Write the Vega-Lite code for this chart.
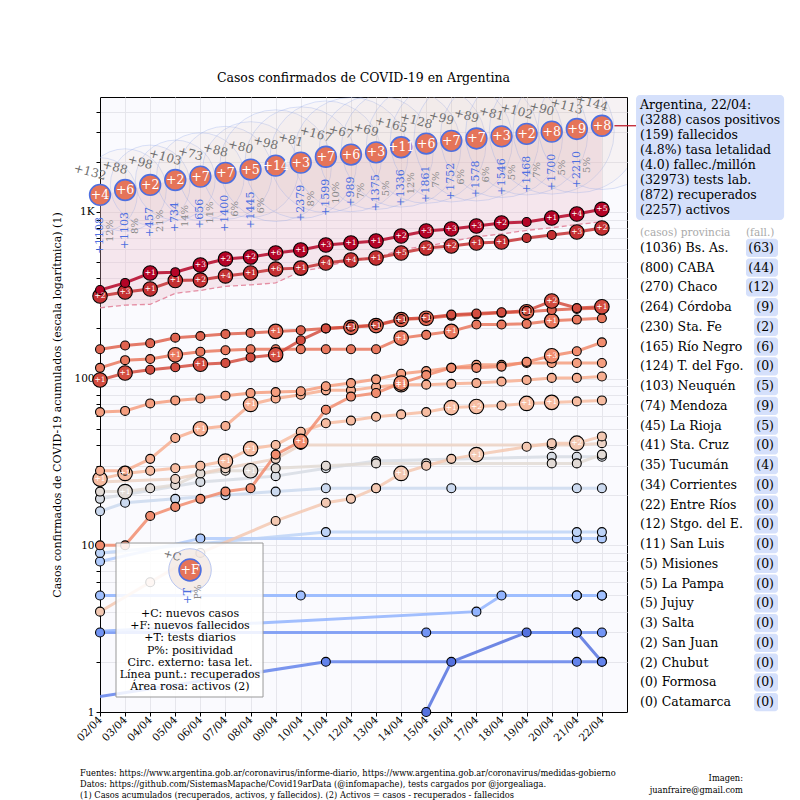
{
"$schema": "https://vega.github.io/schema/vega-lite/v6.json",
"width": 527, "height": 615,
"autosize": "none",
"padding": {"left": 100, "top": 97, "right": 173, "bottom": 88},
"background": "white",
"title": {"text": "Casos confirmados de COVID-19 en Argentina", "fontSize": 12.5, "fontWeight": "normal", "anchor": "middle", "offset": 8, "color": "#000"},
"config": {"font": "DejaVu Serif", "view": {"fill": "#fafafe", "stroke": "#000", "strokeWidth": 1}, "axisX": {"labelOverlap": false, "labelSeparation": -12}},
"datasets": {
"nat": [
{"d":2,"c":1265,"nc":132,"f":4,"t":1108,"pp":0.12,"r":266,"let":2.8},
{"d":3,"c":1353,"nc":88,"f":6,"t":1103,"pp":0.08,"r":276,"let":3.1},
{"d":4,"c":1451,"nc":98,"f":2,"t":457,"pp":0.21,"r":279,"let":3.0},
{"d":5,"c":1554,"nc":103,"f":2,"t":734,"pp":0.14,"r":325,"let":3.0},
{"d":6,"c":1628,"nc":73,"f":7,"t":656,"pp":0.11,"r":338,"let":3.3},
{"d":7,"c":1715,"nc":88,"f":7,"t":1400,"pp":0.06,"r":358,"let":3.5},
{"d":8,"c":1795,"nc":80,"f":5,"t":1445,"pp":0.06,"r":365,"let":3.6},
{"d":9,"c":1894,"nc":98,"f":14,"t":null,"pp":null,"r":375,"let":4.2},
{"d":10,"c":1975,"nc":81,"f":3,"t":2379,"pp":0.08,"r":440,"let":4.2},
{"d":11,"c":2142,"nc":167,"f":7,"t":1599,"pp":0.10,"r":468,"let":4.2},
{"d":12,"c":2208,"nc":67,"f":6,"t":989,"pp":0.07,"r":515,"let":4.3},
{"d":13,"c":2277,"nc":69,"f":3,"t":1375,"pp":0.05,"r":528,"let":4.3},
{"d":14,"c":2443,"nc":165,"f":11,"t":1336,"pp":0.12,"r":596,"let":4.5},
{"d":15,"c":2571,"nc":128,"f":6,"t":1861,"pp":0.07,"r":622,"let":4.5},
{"d":16,"c":2669,"nc":99,"f":7,"t":1752,"pp":0.06,"r":666,"let":4.6},
{"d":17,"c":2758,"nc":89,"f":7,"t":1578,"pp":0.06,"r":709,"let":4.7},
{"d":18,"c":2839,"nc":81,"f":3,"t":1546,"pp":0.05,"r":737,"let":4.6},
{"d":19,"c":2941,"nc":102,"f":2,"t":1468,"pp":0.07,"r":775,"let":4.6},
{"d":20,"c":3031,"nc":90,"f":8,"t":1700,"pp":0.05,"r":803,"let":4.7},
{"d":21,"c":3144,"nc":113,"f":9,"t":2210,"pp":0.05,"r":840,"let":4.8},
{"d":22,"c":3288,"nc":144,"f":8,"t":null,"pp":null,"r":872,"let":4.8}
],
"prov": [
{"p":"Chubut","d":15,"c":1},{"p":"Chubut","d":16,"c":2},{"p":"Chubut","d":19,"c":3},{"p":"Chubut","d":21,"c":3},{"p":"Chubut","d":22,"c":2},
{"p":"San Juan","d":-2,"c":1},{"p":"San Juan","d":11,"c":2},{"p":"San Juan","d":21,"c":2},{"p":"San Juan","d":22,"c":2},
{"p":"Salta","d":2,"c":3},{"p":"Salta","d":15,"c":3},{"p":"Salta","d":21,"c":3},{"p":"Salta","d":22,"c":3},
{"p":"Jujuy","d":1,"c":5},{"p":"Jujuy","d":21,"c":5},{"p":"Jujuy","d":22,"c":5},
{"p":"La Pampa","d":1,"c":3},{"p":"La Pampa","d":17,"c":4},{"p":"La Pampa","d":18,"c":5},{"p":"La Pampa","d":21,"c":5},{"p":"La Pampa","d":22,"c":5},
{"p":"Misiones","d":2,"c":5},{"p":"Misiones","d":10,"c":5},{"p":"Misiones","d":21,"c":5},{"p":"Misiones","d":22,"c":5},
{"p":"San Luis","d":2,"c":8},{"p":"San Luis","d":6,"c":11},{"p":"San Luis","d":21,"c":11},{"p":"San Luis","d":22,"c":11},
{"p":"Stgo. del E.","d":2,"c":9},{"p":"Stgo. del E.","d":11,"c":12},{"p":"Stgo. del E.","d":21,"c":12},{"p":"Stgo. del E.","d":22,"c":12},
{"p":"Entre Ríos","d":2,"c":16},{"p":"Entre Ríos","d":3,"c":18},{"p":"Entre Ríos","d":5,"c":19},{"p":"Entre Ríos","d":7,"c":20},{"p":"Entre Ríos","d":9,"c":21},{"p":"Entre Ríos","d":11,"c":22},{"p":"Entre Ríos","d":13,"c":22},{"p":"Entre Ríos","d":16,"c":22},{"p":"Entre Ríos","d":21,"c":22},{"p":"Entre Ríos","d":22,"c":22},
{"p":"Corrientes","d":2,"c":19},{"p":"Corrientes","d":6,"c":24},{"p":"Corrientes","d":9,"c":26},{"p":"Corrientes","d":11,"c":29},{"p":"Corrientes","d":13,"c":32},{"p":"Corrientes","d":20,"c":34},{"p":"Corrientes","d":21,"c":34},{"p":"Corrientes","d":22,"c":34},
{"p":"Tucumán","d":2,"c":21},{"p":"Tucumán","d":3,"c":21,"f":1},{"p":"Tucumán","d":4,"c":22},{"p":"Tucumán","d":5,"c":23},{"p":"Tucumán","d":6,"c":27},{"p":"Tucumán","d":7,"c":28},{"p":"Tucumán","d":8,"c":28,"f":1},{"p":"Tucumán","d":9,"c":29},{"p":"Tucumán","d":11,"c":30},{"p":"Tucumán","d":13,"c":31},{"p":"Tucumán","d":15,"c":31},{"p":"Tucumán","d":20,"c":31},{"p":"Tucumán","d":21,"c":31},{"p":"Tucumán","d":22,"c":35},
{"p":"Sta. Cruz","d":2,"c":24},{"p":"Sta. Cruz","d":5,"c":25},{"p":"Sta. Cruz","d":7,"c":29},{"p":"Sta. Cruz","d":9,"c":33},{"p":"Sta. Cruz","d":10,"c":40},{"p":"Sta. Cruz","d":20,"c":40},{"p":"Sta. Cruz","d":21,"c":40},{"p":"Sta. Cruz","d":22,"c":41},
{"p":"La Rioja","d":2,"c":4},{"p":"La Rioja","d":4,"c":6},{"p":"La Rioja","d":6,"c":9},{"p":"La Rioja","d":9,"c":14},{"p":"La Rioja","d":11,"c":18},{"p":"La Rioja","d":12,"c":19},{"p":"La Rioja","d":13,"c":22},{"p":"La Rioja","d":14,"c":27,"f":1},{"p":"La Rioja","d":15,"c":30},{"p":"La Rioja","d":16,"c":33},{"p":"La Rioja","d":17,"c":35,"f":1},{"p":"La Rioja","d":19,"c":39},{"p":"La Rioja","d":20,"c":41},{"p":"La Rioja","d":21,"c":41,"f":2},{"p":"La Rioja","d":22,"c":45},
{"p":"Mendoza","d":2,"c":25,"f":1},{"p":"Mendoza","d":3,"c":27,"f":1},{"p":"Mendoza","d":4,"c":28},{"p":"Mendoza","d":5,"c":29},{"p":"Mendoza","d":6,"c":30},{"p":"Mendoza","d":7,"c":32,"f":1},{"p":"Mendoza","d":8,"c":38,"f":1},{"p":"Mendoza","d":9,"c":40},{"p":"Mendoza","d":10,"c":48},{"p":"Mendoza","d":11,"c":54},{"p":"Mendoza","d":12,"c":56},{"p":"Mendoza","d":13,"c":59},{"p":"Mendoza","d":14,"c":61},{"p":"Mendoza","d":15,"c":63},{"p":"Mendoza","d":16,"c":67,"f":1},{"p":"Mendoza","d":17,"c":68,"f":2},{"p":"Mendoza","d":18,"c":69},{"p":"Mendoza","d":19,"c":71,"f":1},{"p":"Mendoza","d":20,"c":72,"f":1},{"p":"Mendoza","d":21,"c":73},{"p":"Mendoza","d":22,"c":74},
{"p":"Neuquén","d":2,"c":28},{"p":"Neuquén","d":3,"c":28},{"p":"Neuquén","d":4,"c":33},{"p":"Neuquén","d":5,"c":44},{"p":"Neuquén","d":6,"c":50,"f":1},{"p":"Neuquén","d":7,"c":52},{"p":"Neuquén","d":8,"c":70,"f":1},{"p":"Neuquén","d":9,"c":76},{"p":"Neuquén","d":10,"c":80},{"p":"Neuquén","d":11,"c":85},{"p":"Neuquén","d":12,"c":85},{"p":"Neuquén","d":13,"c":89},{"p":"Neuquén","d":14,"c":92,"f":1},{"p":"Neuquén","d":15,"c":92},{"p":"Neuquén","d":16,"c":93},{"p":"Neuquén","d":17,"c":94},{"p":"Neuquén","d":18,"c":96},{"p":"Neuquén","d":19,"c":98},{"p":"Neuquén","d":20,"c":101},{"p":"Neuquén","d":21,"c":101},{"p":"Neuquén","d":22,"c":103},
{"p":"T. del Fgo.","d":2,"c":63},{"p":"T. del Fgo.","d":3,"c":64},{"p":"T. del Fgo.","d":4,"c":71},{"p":"T. del Fgo.","d":5,"c":74},{"p":"T. del Fgo.","d":6,"c":76},{"p":"T. del Fgo.","d":7,"c":79},{"p":"T. del Fgo.","d":8,"c":82},{"p":"T. del Fgo.","d":9,"c":83},{"p":"T. del Fgo.","d":10,"c":84},{"p":"T. del Fgo.","d":11,"c":90},{"p":"T. del Fgo.","d":12,"c":94},{"p":"T. del Fgo.","d":13,"c":99},{"p":"T. del Fgo.","d":14,"c":107},{"p":"T. del Fgo.","d":15,"c":111},{"p":"T. del Fgo.","d":16,"c":116},{"p":"T. del Fgo.","d":17,"c":121},{"p":"T. del Fgo.","d":18,"c":121},{"p":"T. del Fgo.","d":19,"c":124},{"p":"T. del Fgo.","d":20,"c":124},{"p":"T. del Fgo.","d":21,"c":124},{"p":"T. del Fgo.","d":22,"c":124},
{"p":"Río Negro","d":2,"c":10},{"p":"Río Negro","d":3,"c":10},{"p":"Río Negro","d":4,"c":15},{"p":"Río Negro","d":5,"c":17},{"p":"Río Negro","d":6,"c":19},{"p":"Río Negro","d":7,"c":21},{"p":"Río Negro","d":8,"c":22},{"p":"Río Negro","d":9,"c":35},{"p":"Río Negro","d":10,"c":42,"f":1},{"p":"Río Negro","d":11,"c":65},{"p":"Río Negro","d":12,"c":78},{"p":"Río Negro","d":13,"c":82},{"p":"Río Negro","d":14,"c":94,"f":1},{"p":"Río Negro","d":15,"c":105},{"p":"Río Negro","d":16,"c":116},{"p":"Río Negro","d":17,"c":116},{"p":"Río Negro","d":18,"c":118},{"p":"Río Negro","d":19,"c":126},{"p":"Río Negro","d":20,"c":137,"f":3},{"p":"Río Negro","d":21,"c":146},{"p":"Río Negro","d":22,"c":165},
{"p":"Sta. Fe","d":2,"c":116},{"p":"Sta. Fe","d":3,"c":129},{"p":"Sta. Fe","d":4,"c":131},{"p":"Sta. Fe","d":5,"c":139,"f":1},{"p":"Sta. Fe","d":6,"c":145},{"p":"Sta. Fe","d":7,"c":148},{"p":"Sta. Fe","d":8,"c":150},{"p":"Sta. Fe","d":9,"c":150},{"p":"Sta. Fe","d":10,"c":150},{"p":"Sta. Fe","d":11,"c":150},{"p":"Sta. Fe","d":12,"c":150},{"p":"Sta. Fe","d":13,"c":150},{"p":"Sta. Fe","d":14,"c":175,"f":1},{"p":"Sta. Fe","d":15,"c":183},{"p":"Sta. Fe","d":16,"c":192,"f":1},{"p":"Sta. Fe","d":17,"c":211},{"p":"Sta. Fe","d":18,"c":211},{"p":"Sta. Fe","d":19,"c":213},{"p":"Sta. Fe","d":20,"c":222,"f":1},{"p":"Sta. Fe","d":21,"c":226},{"p":"Sta. Fe","d":22,"c":230},
{"p":"Córdoba","d":2,"c":150},{"p":"Córdoba","d":3,"c":158},{"p":"Córdoba","d":4,"c":163},{"p":"Córdoba","d":5,"c":176},{"p":"Córdoba","d":6,"c":180},{"p":"Córdoba","d":7,"c":185},{"p":"Córdoba","d":8,"c":188},{"p":"Córdoba","d":9,"c":192,"f":1},{"p":"Córdoba","d":10,"c":195},{"p":"Córdoba","d":11,"c":200},{"p":"Córdoba","d":12,"c":203,"f":1},{"p":"Córdoba","d":13,"c":208,"f":1},{"p":"Córdoba","d":14,"c":226,"f":1},{"p":"Córdoba","d":15,"c":230,"f":1},{"p":"Córdoba","d":16,"c":238},{"p":"Córdoba","d":17,"c":243},{"p":"Córdoba","d":18,"c":248},{"p":"Córdoba","d":19,"c":252,"f":1},{"p":"Córdoba","d":20,"c":258},{"p":"Córdoba","d":21,"c":262},{"p":"Córdoba","d":22,"c":264},
{"p":"Chaco","d":2,"c":98,"f":1},{"p":"Chaco","d":3,"c":108,"f":1},{"p":"Chaco","d":4,"c":113},{"p":"Chaco","d":5,"c":117},{"p":"Chaco","d":6,"c":122,"f":1},{"p":"Chaco","d":7,"c":124},{"p":"Chaco","d":8,"c":134},{"p":"Chaco","d":9,"c":139,"f":1},{"p":"Chaco","d":10,"c":170},{"p":"Chaco","d":11,"c":200},{"p":"Chaco","d":12,"c":205},{"p":"Chaco","d":13,"c":210},{"p":"Chaco","d":14,"c":228},{"p":"Chaco","d":15,"c":232},{"p":"Chaco","d":16,"c":242},{"p":"Chaco","d":17,"c":246},{"p":"Chaco","d":18,"c":250},{"p":"Chaco","d":19,"c":255},{"p":"Chaco","d":20,"c":292,"f":2},{"p":"Chaco","d":21,"c":265},{"p":"Chaco","d":22,"c":270,"f":1},
{"p":"CABA","d":2,"c":313,"f":2},{"p":"CABA","d":3,"c":331,"f":3},{"p":"CABA","d":4,"c":345,"f":1},{"p":"CABA","d":5,"c":388,"f":1},{"p":"CABA","d":6,"c":390,"f":2},{"p":"CABA","d":7,"c":413,"f":4},{"p":"CABA","d":8,"c":430,"f":1},{"p":"CABA","d":9,"c":454,"f":6},{"p":"CABA","d":10,"c":460,"f":1},{"p":"CABA","d":11,"c":494,"f":4},{"p":"CABA","d":12,"c":515,"f":4},{"p":"CABA","d":13,"c":529,"f":1},{"p":"CABA","d":14,"c":567,"f":5},{"p":"CABA","d":15,"c":607,"f":2},{"p":"CABA","d":16,"c":624,"f":2},{"p":"CABA","d":17,"c":651,"f":1},{"p":"CABA","d":18,"c":660,"f":1},{"p":"CABA","d":19,"c":697},{"p":"CABA","d":20,"c":727},{"p":"CABA","d":21,"c":758,"f":3},{"p":"CABA","d":22,"c":800,"f":2},
{"p":"Bs. As.","d":2,"c":340},{"p":"Bs. As.","d":3,"c":375},{"p":"Bs. As.","d":4,"c":430,"f":1},{"p":"Bs. As.","d":5,"c":435},{"p":"Bs. As.","d":6,"c":480,"f":3},{"p":"Bs. As.","d":7,"c":522,"f":2},{"p":"Bs. As.","d":8,"c":536,"f":2},{"p":"Bs. As.","d":9,"c":567,"f":6},{"p":"Bs. As.","d":10,"c":591,"f":1},{"p":"Bs. As.","d":11,"c":633,"f":3},{"p":"Bs. As.","d":12,"c":651,"f":1},{"p":"Bs. As.","d":13,"c":669,"f":1},{"p":"Bs. As.","d":14,"c":717,"f":2},{"p":"Bs. As.","d":15,"c":768,"f":3},{"p":"Bs. As.","d":16,"c":790,"f":3},{"p":"Bs. As.","d":17,"c":823,"f":3},{"p":"Bs. As.","d":18,"c":858,"f":2},{"p":"Bs. As.","d":19,"c":870},{"p":"Bs. As.","d":20,"c":919,"f":1},{"p":"Bs. As.","d":21,"c":972,"f":4},{"p":"Bs. As.","d":22,"c":1036,"f":5}
],
"lab": [
{"rk":0,"lb":"(1036) Bs. As.","dl":"(63)","dd":63},
{"rk":1,"lb":"(800) CABA","dl":"(44)","dd":44},
{"rk":2,"lb":"(270) Chaco","dl":"(12)","dd":12},
{"rk":3,"lb":"(264) Córdoba","dl":"(9)","dd":9},
{"rk":4,"lb":"(230) Sta. Fe","dl":"(2)","dd":2},
{"rk":5,"lb":"(165) Río Negro","dl":"(6)","dd":6},
{"rk":6,"lb":"(124) T. del Fgo.","dl":"(0)","dd":0},
{"rk":7,"lb":"(103) Neuquén","dl":"(5)","dd":5},
{"rk":8,"lb":"(74) Mendoza","dl":"(9)","dd":9},
{"rk":9,"lb":"(45) La Rioja","dl":"(5)","dd":5},
{"rk":10,"lb":"(41) Sta. Cruz","dl":"(0)","dd":0},
{"rk":11,"lb":"(35) Tucumán","dl":"(4)","dd":4},
{"rk":12,"lb":"(34) Corrientes","dl":"(0)","dd":0},
{"rk":13,"lb":"(22) Entre Ríos","dl":"(0)","dd":0},
{"rk":14,"lb":"(12) Stgo. del E.","dl":"(0)","dd":0},
{"rk":15,"lb":"(11) San Luis","dl":"(0)","dd":0},
{"rk":16,"lb":"(5) Misiones","dl":"(0)","dd":0},
{"rk":17,"lb":"(5) La Pampa","dl":"(0)","dd":0},
{"rk":18,"lb":"(5) Jujuy","dl":"(0)","dd":0},
{"rk":19,"lb":"(3) Salta","dl":"(0)","dd":0},
{"rk":20,"lb":"(2) San Juan","dl":"(0)","dd":0},
{"rk":21,"lb":"(2) Chubut","dl":"(0)","dd":0},
{"rk":22,"lb":"(0) Formosa","dl":"(0)","dd":0},
{"rk":23,"lb":"(0) Catamarca","dl":"(0)","dd":0}
]
},
"layer": [
{
"layer": [
{"data": {"name": "nat"},
 "mark": {"type": "area", "color": "#eab8c8", "opacity": 0.3, "clip": true},
 "encoding": {
  "x": {"field": "d", "type": "quantitative", "scale": {"domain": [2, 23], "nice": false, "zero": false},
        "axis": {"values": [2,3,4,5,6,7,8,9,10,11,12,13,14,15,16,17,18,19,20,21,22], "tickCount": 21,
                 "labelExpr": "datum.value > 22.5 ? '' : ((datum.value < 10 ? '0' : '') + datum.value + '/04')",
                 "labelOverlap": false, "labelSeparation": -12, "labelAngle": 315, "labelAlign": "right", "labelBaseline": "middle", "labelFontSize": 10.5, "labelColor": "#000",
                 "labelPadding": 2, "tickSize": 4, "tickColor": "#000", "domainColor": "#000", "grid": true, "gridColor": "#e6e6ec", "title": null}},
  "y": {"field": "c", "type": "quantitative", "scale": {"type": "log", "domain": [1, 4890], "nice": false},
        "axis": {"values": [1,2,3,4,5,6,7,8,9,10,20,30,40,50,60,70,80,90,100,200,300,400,500,600,700,800,900,1000,2000,3000,4000],
                 "labelExpr": "datum.value == 1000 ? '1K' : ((datum.value == 1 || datum.value == 10 || datum.value == 100) ? datum.value + '' : '')",
                 "labelOverlap": false, "labelFontSize": 10.5, "labelColor": "#000", "tickSize": 4, "tickColor": "#000", "domainColor": "#000",
                 "grid": true, "gridColor": "#e6e6ec",
                 "title": "Casos confirmados de COVID-19 acumulados (escala logarítmica) (1)", "titleFontSize": 11, "titleFontWeight": "normal", "titleColor": "#000", "titlePadding": 11}},
  "y2": {"field": "r"}
 }},
{"data": {"name": "nat"},
 "mark": {"type": "point", "shape": "circle", "filled": true, "fill": "#d9b6a3", "fillOpacity": 0.06, "stroke": "#8ba4ea", "strokeOpacity": 0.3, "strokeWidth": 1, "clip": true},
 "encoding": {
  "x": {"field": "d", "type": "quantitative"},
  "y": {"field": "c", "type": "quantitative"},
  "size": {"field": "let", "type": "quantitative", "scale": {"type": "pow", "exponent": 2, "domain": [0, 5], "range": [0, 17671]}, "legend": null}
 }},
{"data": {"name": "nat"},
 "mark": {"type": "line", "color": "#e48da3", "strokeDash": [5, 3], "strokeWidth": 1.3},
 "encoding": {"x": {"field": "d", "type": "quantitative"}, "y": {"field": "r", "type": "quantitative"}}},
{"data": {"name": "prov"},
 "mark": {"type": "line", "strokeWidth": 3, "opacity": 0.85, "clip": true},
 "encoding": {
  "x": {"field": "d", "type": "quantitative"},
  "y": {"field": "c", "type": "quantitative"},
  "color": {"field": "p", "type": "nominal", "legend": null,
   "scale": {"domain": ["Bs. As.","CABA","Chaco","Córdoba","Sta. Fe","Río Negro","T. del Fgo.","Neuquén","Mendoza","La Rioja","Sta. Cruz","Tucumán","Corrientes","Entre Ríos","Stgo. del E.","San Luis","Misiones","La Pampa","Jujuy","Salta","San Juan","Chubut"],
             "range": ["#b40426","#c43032","#d34d40","#df634f","#e9785e","#f18c6e","#f59e7f","#f7ae91","#f7bca1","#f3c8b2","#ecd2c4","#e2dad5","#d7dce4","#cbd9ef","#bdd3f7","#afcafc","#a0c0ff","#91b3fe","#81a4fb","#7294f4","#6383eb","#5572df"]}}
 }},
{"data": {"name": "prov"},
 "transform": [{"filter": "datum.d >= 2"}],
 "mark": {"type": "point", "shape": "circle", "filled": true, "stroke": "#000", "strokeWidth": 1.1, "opacity": 1},
 "encoding": {
  "x": {"field": "d", "type": "quantitative"},
  "y": {"field": "c", "type": "quantitative"},
  "color": {"field": "p", "type": "nominal", "legend": null},
  "size": {"condition": {"test": "datum.f > 0", "value": 210}, "value": 80}
 }},
{"data": {"name": "prov"},
 "transform": [{"filter": "datum.f > 0"}],
 "mark": {"type": "text", "color": "white", "fontSize": 7.5, "baseline": "middle", "align": "center"},
 "encoding": {
  "x": {"field": "d", "type": "quantitative"},
  "y": {"field": "c", "type": "quantitative"},
  "text": {"field": "f", "type": "quantitative", "format": "+d"}
 }},
{"data": {"name": "nat"},
 "mark": {"type": "point", "shape": "circle", "filled": true, "fill": "#e57459", "stroke": "#4d6fe0", "strokeWidth": 1.6, "size": 430, "opacity": 1},
 "encoding": {"x": {"field": "d", "type": "quantitative"}, "y": {"field": "c", "type": "quantitative"}}},
{"data": {"name": "nat"},
 "mark": {"type": "text", "color": "white", "fontSize": 12.5, "baseline": "middle", "align": "center"},
 "encoding": {"x": {"field": "d", "type": "quantitative"}, "y": {"field": "c", "type": "quantitative"},
  "text": {"field": "f", "type": "quantitative", "format": "+d"}}},
{"data": {"name": "nat"},
 "mark": {"type": "text", "color": "#6e6e6e", "fontSize": 12, "angle": 15, "dx": -15.6, "dy": -19.6, "baseline": "middle", "align": "center"},
 "encoding": {"x": {"field": "d", "type": "quantitative"}, "y": {"field": "c", "type": "quantitative"},
  "text": {"field": "nc", "type": "quantitative", "format": "+d"}}},
{"data": {"name": "nat"},
 "transform": [{"filter": "isValid(datum.t)"}],
 "mark": {"type": "text", "color": "#4d6fe0", "fontSize": 11, "angle": 270, "dx": -22, "baseline": "middle", "align": "right"},
 "encoding": {"x": {"field": "d", "type": "quantitative"}, "y": {"field": "c", "type": "quantitative"},
  "text": {"field": "t", "type": "quantitative", "format": "+d"}}},
{"data": {"name": "nat"},
 "transform": [{"filter": "isValid(datum.pp)"}],
 "mark": {"type": "text", "color": "#888888", "fontSize": 10, "angle": 270, "dx": -36, "dy": 10, "baseline": "middle", "align": "center"},
 "encoding": {"x": {"field": "d", "type": "quantitative"}, "y": {"field": "c", "type": "quantitative"},
  "text": {"field": "pp", "type": "quantitative", "format": ".0%"}}},
{"data": {"values": [{}]},
 "mark": {"type": "rect", "fill": "white", "fillOpacity": 0.85, "stroke": "#999999", "strokeWidth": 1},
 "encoding": {"x": {"datum": 2.638, "type": "quantitative"}, "x2": {"datum": 8.496}, "y": {"datum": 10.32, "type": "quantitative"}, "y2": {"datum": 1.23}}},
{"data": {"values": [{}]},
 "mark": {"type": "point", "shape": "circle", "filled": true, "fill": "#ecdcd3", "fillOpacity": 0.5, "stroke": "#b8c6f0", "strokeWidth": 1, "size": 1810},
 "encoding": {"x": {"datum": 5.586, "type": "quantitative"}, "y": {"datum": 7.11, "type": "quantitative"}}},
{"data": {"values": [{}]},
 "mark": {"type": "point", "shape": "circle", "filled": true, "fill": "#e57459", "stroke": "#4d6fe0", "strokeWidth": 1.6, "size": 480, "opacity": 1},
 "encoding": {"x": {"datum": 5.586, "type": "quantitative"}, "y": {"datum": 7.11, "type": "quantitative"}}},
{"data": {"values": [{}]},
 "mark": {"type": "text", "color": "white", "fontSize": 12.5, "baseline": "middle", "align": "center", "text": "+F"},
 "encoding": {"x": {"datum": 5.586, "type": "quantitative"}, "y": {"datum": 7.11, "type": "quantitative"}}},
{"data": {"values": [{}]},
 "mark": {"type": "text", "color": "#707070", "fontSize": 11, "angle": 15, "baseline": "middle", "align": "center", "text": "+C"},
 "encoding": {"x": {"datum": 4.87, "type": "quantitative"}, "y": {"datum": 8.63, "type": "quantitative"}}},
{"data": {"values": [{}]},
 "mark": {"type": "text", "color": "#4d6fe0", "fontSize": 11, "angle": 270, "baseline": "middle", "align": "center", "text": "+T"},
 "encoding": {"x": {"datum": 5.51, "type": "quantitative"}, "y": {"datum": 4.96, "type": "quantitative"}}},
{"data": {"values": [{}]},
 "mark": {"type": "text", "color": "#888888", "fontSize": 9, "angle": 270, "baseline": "middle", "align": "center", "text": "P%"},
 "encoding": {"x": {"datum": 5.9, "type": "quantitative"}, "y": {"datum": 5.25, "type": "quantitative"}}},
{"data": {"values": [{}]},
 "mark": {"type": "text", "color": "#000", "fontSize": 11, "baseline": "top", "align": "center", "lineHeight": 12.2,
   "text": ["+C: nuevos casos", "+F: nuevos fallecidos", "+T: tests diarios", "P%: positividad", "Circ. externo: tasa let.", "Línea punt.: recuperados", "Área rosa: activos (2)"]},
 "encoding": {"x": {"datum": 5.586, "type": "quantitative"}, "y": {"datum": 4.21, "type": "quantitative"}}},
{"data": {"values": [{}]},
 "mark": {"type": "rule", "color": "#c02030", "strokeWidth": 1.3},
 "encoding": {"x": {"datum": 22.5, "type": "quantitative"}, "x2": {"datum": 23.36}, "y": {"datum": 3288, "type": "quantitative"}}},
{"data": {"values": [{}]},
 "mark": {"type": "rect", "fill": "#d5e0fb", "cornerRadius": 4},
 "encoding": {"x": {"datum": 23.36, "type": "quantitative"}, "x2": {"datum": 29.26}, "y": {"datum": 5026, "type": "quantitative"}, "y2": {"datum": 894}}},
{"data": {"values": [{}]},
 "mark": {"type": "text", "color": "#000", "fontSize": 12.5, "baseline": "top", "align": "left", "lineHeight": 15,
   "text": ["Argentina, 22/04:", "(3288) casos positivos", "(159) fallecidos", "(4.8%) tasa letalidad", "(4.0) fallec./millón", "(32973) tests lab.", "(872) recuperados", "(2257) activos"]},
 "encoding": {"x": {"datum": 23.518, "type": "quantitative"}, "y": {"datum": 4726, "type": "quantitative"}}},
{"data": {"values": [{}]},
 "mark": {"type": "text", "color": "#aaaaaa", "fontSize": 10.5, "baseline": "middle", "align": "left", "text": "(casos) provincia"},
 "encoding": {"x": {"datum": 23.518, "type": "quantitative"}, "y": {"datum": 747, "type": "quantitative"}}},
{"data": {"values": [{}]},
 "mark": {"type": "text", "color": "#aaaaaa", "fontSize": 10.5, "baseline": "middle", "align": "left", "text": "(fall.)"},
 "encoding": {"x": {"datum": 27.742, "type": "quantitative"}, "y": {"datum": 747, "type": "quantitative"}}},
{"data": {"values": [{}]},
 "mark": {"type": "text", "color": "#000", "fontSize": 9.2, "font": "DejaVu Serif Condensed", "baseline": "top", "align": "left", "lineHeight": 11,
   "text": ["Fuentes: https://www.argentina.gob.ar/coronavirus/informe-diario, https://www.argentina.gob.ar/coronavirus/medidas-gobierno", "Datos: https://github.com/SistemasMapache/Covid19arData (@infomapache), tests cargados por @jorgealiaga.", "(1) Casos acumulados (recuperados, activos, y fallecidos). (2) Activos = casos - recuperados - fallecidos"]},
 "encoding": {"x": {"datum": 1.203, "type": "quantitative"}, "y": {"datum": 0.453, "type": "quantitative"}}},
{"data": {"values": [{}]},
 "mark": {"type": "text", "color": "#000", "fontSize": 9.2, "font": "DejaVu Serif Condensed", "baseline": "top", "align": "right", "lineHeight": 12,
   "text": ["Imagen:", "juanfraire@gmail.com"]},
 "encoding": {"x": {"datum": 27.62, "type": "quantitative"}, "y": {"datum": 0.425, "type": "quantitative"}}}
]
},
{
"data": {"name": "lab"},
"layer": [
{"transform": [{"filter": "datum.dd >= 10"}],
 "mark": {"type": "rect", "fill": "#d5e0fb", "cornerRadius": 3, "height": {"band": 0.92}},
 "encoding": {"x": {"datum": 27.742, "type": "quantitative", "scale": {"domain": [2, 23], "nice": false, "zero": false}, "axis": null}, "x2": {"datum": 29.017},
  "y": {"field": "rk", "type": "ordinal", "scale": {"type": "band", "domain": [0,1,2,3,4,5,6,7,8,9,10,11,12,13,14,15,16,17,18,19,20,21,22,23], "range": [141, 615], "paddingInner": 0, "paddingOuter": 0}, "axis": null}}},
{"transform": [{"filter": "datum.dd < 10"}],
 "mark": {"type": "rect", "fill": "#d5e0fb", "cornerRadius": 3, "height": {"band": 0.92}},
 "encoding": {"x": {"datum": 28.06, "type": "quantitative", "axis": null}, "x2": {"datum": 29.017},
  "y": {"field": "rk", "type": "ordinal", "axis": null}}},
{"mark": {"type": "text", "align": "left", "baseline": "middle", "fontSize": 12.5, "color": "#000"},
 "encoding": {"x": {"datum": 23.518, "type": "quantitative", "axis": null}, "y": {"field": "rk", "type": "ordinal", "axis": null}, "text": {"field": "lb"}}},
{"mark": {"type": "text", "align": "right", "baseline": "middle", "fontSize": 12.5, "color": "#000"},
 "encoding": {"x": {"datum": 28.858, "type": "quantitative", "axis": null}, "y": {"field": "rk", "type": "ordinal", "axis": null}, "text": {"field": "dl"}}}
]
}
],
"resolve": {"scale": {"y": "independent", "x": "independent"}}
}
